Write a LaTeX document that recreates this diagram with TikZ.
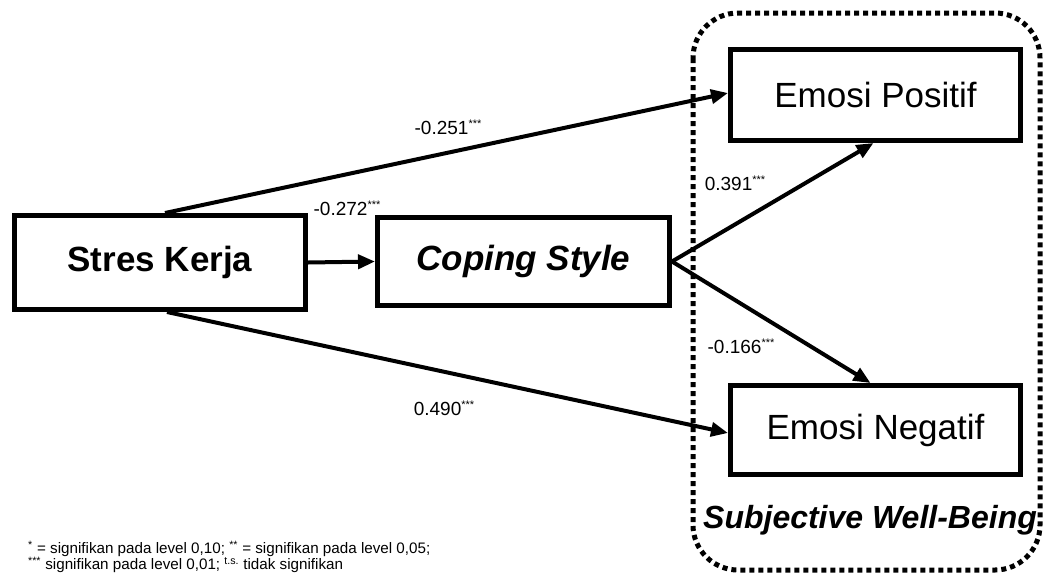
\documentclass[tikz,border=0pt]{standalone}
\usepackage{fontspec}
\setmainfont{Liberation Sans}
\usetikzlibrary{arrows.meta}
\tikzset{
  boxnode/.style={draw, line width=5pt, inner sep=0pt, font=\fontsize{35}{42}\selectfont},
  conn/.style={line width=4pt, -{Triangle[length=17pt,width=14pt]}},
  lbl/.style={inner sep=0pt, font=\fontsize{19}{22}\selectfont},
  fnote/.style={inner sep=0pt, anchor=west, font=\fontsize{15.2}{18}\selectfont},
}
\newcommand{\sig}{\raisebox{7pt}{\fontsize{11}{11}\selectfont ***}}
\begin{document}
\begin{tikzpicture}[x=1pt,y=-1pt]
\useasboundingbox (0,0) rectangle (1044,576);
\draw[line width=5pt, dash pattern=on 5pt off 4pt, rounded corners=45pt] (693,13) rectangle (1040,570);
\node[boxnode, minimum width=291pt, minimum height=94pt, font=\fontsize{35}{42}\selectfont\bfseries] (sk) at (160,262.5) {Stres Kerja};
\node[boxnode, minimum width=292pt, minimum height=88pt, font=\fontsize{35}{42}\selectfont\bfseries\itshape] (cs) at (523.5,261.5) {Coping Style};
\node[boxnode, minimum width=290pt, minimum height=91pt] (ep) at (875.5,95) {Emosi Positif};
\node[boxnode, minimum width=290pt, minimum height=89pt] (en) at (875.5,430) {Emosi Negatif};
\node[inner sep=0pt, font=\fontsize{32}{38}\selectfont\bfseries\itshape] (swb) at (870,520) {Subjective Well-Being};
\draw[conn] ([xshift=5pt]sk.north) -- ([yshift=2pt]ep.west);
\draw[conn] (sk.east) -- (cs.west);
\draw[conn] ([xshift=7pt]sk.south) -- ([yshift=-3pt]en.west);
\draw[conn] (cs.east) -- ([xshift=-2pt]ep.south);
\draw[conn] (cs.east) -- ([xshift=-5pt]en.north);
\node[lbl] (l1) at (448,127) {-0.251\sig};
\node[lbl] (l2) at (347,208) {-0.272\sig};
\node[lbl] (l3) at (444,408) {0.490\sig};
\node[lbl] (l4) at (735,183) {0.391\sig};
\node[lbl] (l5) at (741,346) {-0.166\sig};
\node[fnote] (fn1) at (28,549) {\textsuperscript{*} = signifikan pada level 0,10; \textsuperscript{**} = signifikan pada level 0,05;};
\node[fnote] (fn2) at (28,565) {\textsuperscript{***} signifikan pada level 0,01; \textsuperscript{t.s.} tidak signifikan};
\end{tikzpicture}
\end{document}
